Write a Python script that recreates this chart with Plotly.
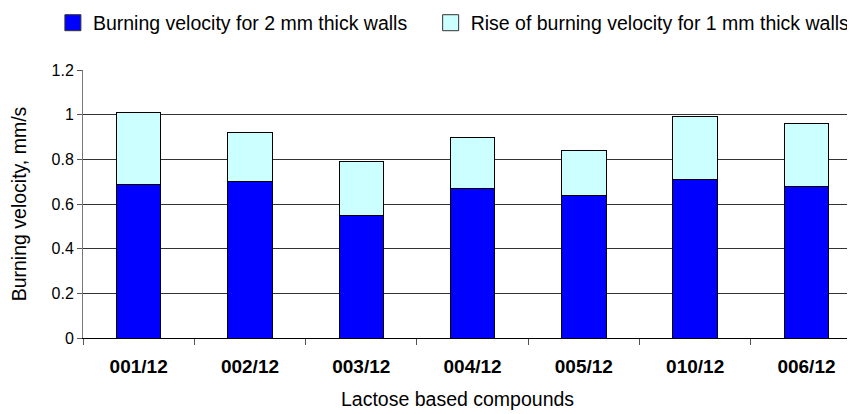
import plotly.graph_objects as go

compounds = ["001/12", "002/12", "003/12", "004/12", "005/12", "010/12", "006/12"]
velocity_2mm = [0.687, 0.70, 0.55, 0.67, 0.64, 0.71, 0.68]
rise_1mm = [0.323, 0.22, 0.24, 0.23, 0.20, 0.28, 0.28]

series_names = ["Burning velocity for 2 mm thick walls",
                "Rise of burning velocity for 1 mm thick walls"]
series_colors = ["#0000ff", "#ccffff"]
legend_ids = ["legend", "legend2"]

font = "Liberation Sans, Arial, sans-serif"

fig = go.Figure()
for vals, name, color in zip([velocity_2mm, rise_1mm], series_names, series_colors):
    fig.add_trace(go.Bar(
        x=compounds, y=vals, name=name, showlegend=False, legendgroup=name,
        marker=dict(color=color, line=dict(color="#000000", width=1)),
        width=0.4,
    ))

# legend entries with larger square swatches
for name, color, leg in zip(series_names, series_colors, legend_ids):
    fig.add_trace(go.Scatter(
        x=[None], y=[None], mode="markers", name=name, legendgroup=name,
        legend=leg,
        marker=dict(symbol="square", size=16, color=color,
                    line=dict(color="#333333", width=1)),
    ))

legend_style = dict(
    orientation="h", xref="container", yref="container",
    xanchor="left", yanchor="middle", y=0.963,
    font=dict(size=19.5), bgcolor="rgba(0,0,0,0)",
)

fig.update_layout(
    barmode="stack",
    width=847, height=406,
    margin=dict(l=75, r=0, t=62, b=76),
    paper_bgcolor="white",
    plot_bgcolor="white",
    font=dict(family=font, size=16, color="#000000"),
    legend=dict(x=0.053, **legend_style),
    legend2=dict(x=0.499, **legend_style),
    xaxis=dict(
        range=[-0.5, 6.436],
        showline=True, linecolor="#000000", linewidth=1,
        ticks="outside", tickson="boundaries", ticklen=6, tickcolor="#555555",
        tickfont=dict(size=19, family=font, weight="bold"),
        ticklabelstandoff=11,
        showgrid=False,
    ),
    yaxis=dict(
        range=[0, 1.2], dtick=0.2,
        showline=True, linecolor="#777777", linewidth=1,
        ticks="outside", ticklen=5, tickcolor="#555555",
        showgrid=True, gridcolor="#333333", gridwidth=1,
        tickformat="~g", tickfont=dict(size=16),
        title=dict(text="Burning velocity, mm/s", font=dict(size=19.5), standoff=19),
        zeroline=False,
    ),
    bargap=0.6,
)

fig.add_annotation(
    text="Lactose based compounds", xref="paper", yref="paper",
    x=0.4845, y=-0.229, yanchor="middle", showarrow=False,
    font=dict(size=19.5, family=font),
)

fig.write_html("out.html")
